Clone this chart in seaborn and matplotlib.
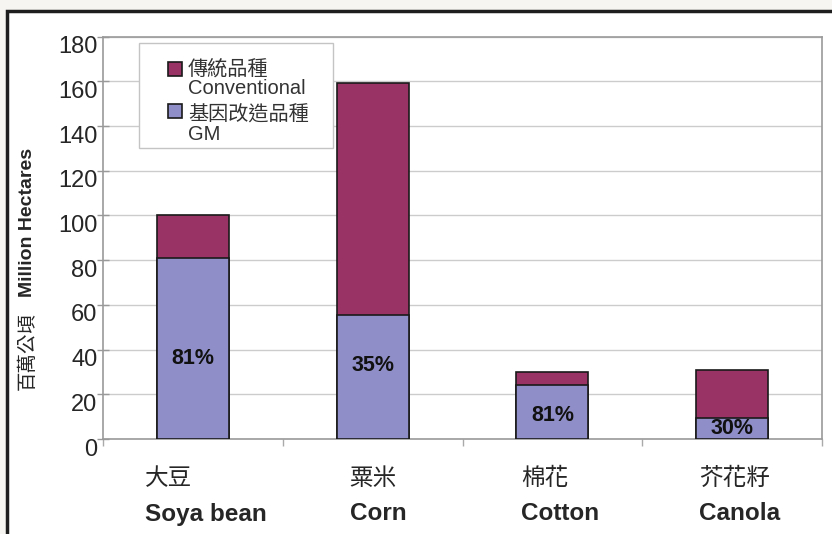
import seaborn as sns
import matplotlib.pyplot as plt
import pandas as pd
from matplotlib.patches import Rectangle
from matplotlib.transforms import ScaledTranslation

## data (million hectares)
crops_zh = ["大豆", "粟米", "棉花", "芥花籽"]
crops_en = ["Soya bean", "Corn", "Cotton", "Canola"]
gm = [81, 55.5, 24.3, 9.4]
conventional = [19, 103.8, 5.8, 21.6]
gm_share = ["81%", "35%", "81%", "30%"]
yticks = [0, 20, 40, 60, 80, 100, 120, 140, 160, 180]

# where the hand-placed labels sit in the original
share_label_y = [36, 33, 10.7, 4.9]
cat_label_x = [-0.267, 0.872, 1.828, 2.817]

df = pd.DataFrame({"crop": crops_en, "gm": gm, "conventional": conventional})
df["total"] = df["gm"] + df["conventional"]

col_conv = "#993366"
col_gm = "#8f8ec8"

sns.set_style("white")
plt.rcParams['font.family'] = ['Liberation Sans', 'Noto Sans CJK TC', 'DejaVu Sans']

W, H = 832, 534
fig = plt.figure(figsize=(W / 100, H / 100), dpi=100)
fig.patch.set_facecolor("#f6f5f1")


def fx(px):
    return px / W


def fy(py):
    return (H - py) / H


# framed white panel (screenshot border)
fig.patches.append(Rectangle((fx(7), -0.2), 1.2, 0.2 + fy(11),
                             transform=fig.transFigure, facecolor="white",
                             edgecolor="#1e1e1e", linewidth=2.5, zorder=-5))

ax = fig.add_axes([fx(103), fy(439), fx(822) - fx(103), fy(36.7) - fy(439)])
ax.set_zorder(2)
ax.set_facecolor("white")

# stacked bars: totals first, GM drawn over them
sns.barplot(data=df, x="crop", y="total", color=col_conv, width=0.4, saturation=1,
            edgecolor="#1a1a1a", linewidth=1.2, ax=ax, zorder=3)
sns.barplot(data=df, x="crop", y="gm", color=col_gm, width=0.4, saturation=1,
            edgecolor="#1a1a1a", linewidth=1.2, ax=ax, zorder=4)

ax.set_xlim(-0.5, 3.5)
ax.set_ylim(0, 180)
ax.set_yticks(yticks)
ax.set_yticklabels([str(v) for v in yticks], fontsize=17)
ax.tick_params(axis="y", length=8, width=1, color="#999999", pad=0,
               direction="inout", left=True)
offset = ScaledTranslation(0, -0.08, fig.dpi_scale_trans)
for lab in ax.get_yticklabels():
    lab.set_transform(lab.get_transform() + offset)

ax.set_xticks([])
ax.set_xticks([-0.5, 0.5, 1.5, 2.5, 3.5], minor=True)
ax.tick_params(axis="x", which="minor", length=5, width=1, color="#aaaaaa",
               direction="out", bottom=True)
ax.set_xlabel("")
ax.set_ylabel("")

ax.yaxis.grid(True, color="#cccccc", linewidth=1)
ax.set_axisbelow(True)
for s in ax.spines.values():
    s.set_visible(True)
    s.set_color("#9a9a9a")
    s.set_linewidth(1.2)

# category labels (left aligned, Chinese above bold English)
for x, zh, en in zip(cat_label_x, crops_zh, crops_en):
    ax.annotate(zh, xy=(x, 0), xycoords=("data", "axes fraction"),
                xytext=(0, -28.5), textcoords="offset points",
                ha="left", va="center", fontsize=17)
    ax.annotate(en, xy=(x, 0), xycoords=("data", "axes fraction"),
                xytext=(0, -54), textcoords="offset points",
                ha="left", va="center", fontsize=17.5, fontweight="bold")

# GM share labels
for i, (y, t) in enumerate(zip(share_label_y, gm_share)):
    ax.text(i, y, t, ha="center", va="center", fontsize=15.5,
            fontweight="bold", color="#111111", zorder=5)

# y axis label: Chinese + bold English
fig.text(fx(28), fy(222), "Million Hectares", rotation=90,
         ha="center", va="center", fontsize=14, fontweight="bold")
fig.text(fx(28), fy(351), "百萬公頃", rotation=90,
         ha="center", va="center", fontsize=14)

# legend box, drawn by hand so the swatch lines up with the first text line
fig.patches.append(Rectangle((fx(139), fy(148)), fx(333) - fx(139), fy(43) - fy(148),
                             transform=fig.transFigure, facecolor="white",
                             edgecolor="#c4c4c4", linewidth=1, zorder=5))
entries = [(col_conv, "傳統品種", "Conventional", 62, 68.5, 89),
           (col_gm, "基因改造品種", "GM", 104, 114.5, 134.5)]
for col, zh, en, top, y_zh, y_en in entries:
    fig.patches.append(Rectangle((fx(168), fy(top + 13.5)), fx(14), fy(top) - fy(top + 13.5),
                                 transform=fig.transFigure, facecolor=col,
                                 edgecolor="#1a1a1a", linewidth=1.2, zorder=6))
    fig.text(fx(188), fy(y_zh), zh, ha="left", va="center",
             fontsize=14.5, color="#333333", zorder=6)
    fig.text(fx(188), fy(y_en), en, ha="left", va="center",
             fontsize=14.5, color="#333333", zorder=6)

fig.savefig("out.png", dpi=100, facecolor=fig.get_facecolor())
